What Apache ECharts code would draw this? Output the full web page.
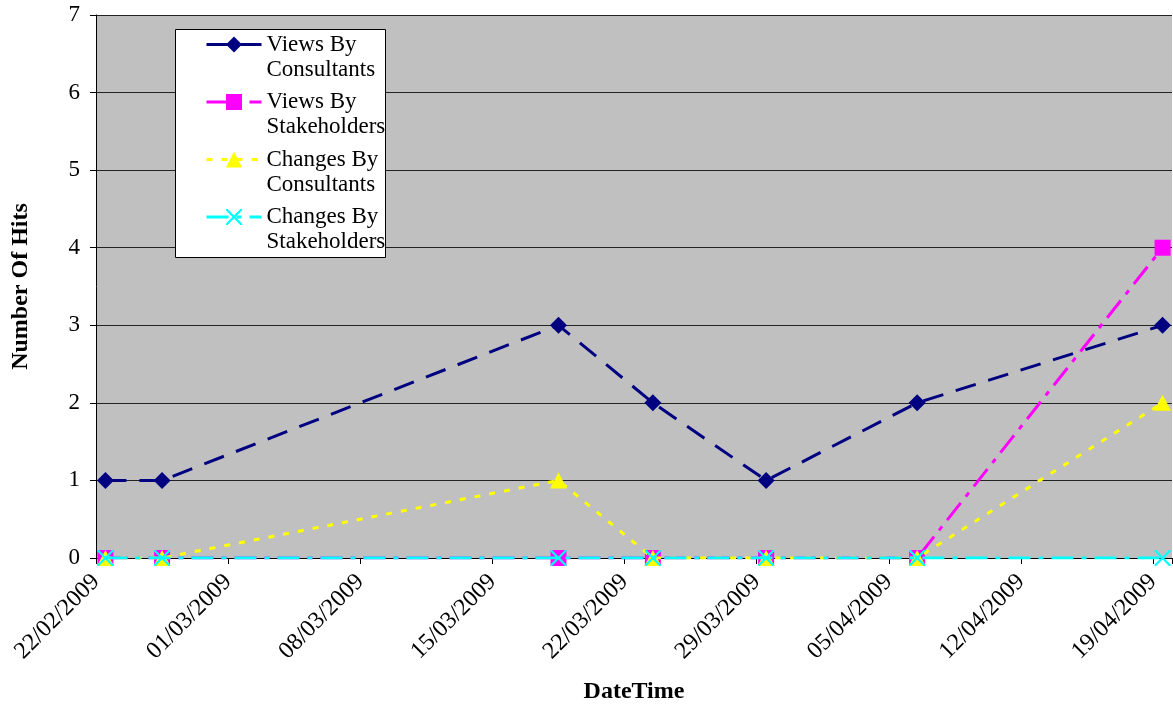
<!DOCTYPE html>
<html>
<head>
<meta charset="utf-8">
<script src="https://cdn.jsdelivr.net/npm/echarts@6/dist/echarts.min.js"></script>
<style>
html,body{margin:0;padding:0;background:#fff;}
#c{width:1173px;height:707px;}
</style>
</head>
<body>
<div id="c"></div>
<script>
// ---- data ----
const dates = ['22/02/2009','25/02/2009','18/03/2009','23/03/2009','29/03/2009','06/04/2009','19/04/2009'];
const viewsByConsultants = [1,1,3,2,1,2,3];
const viewsByStakeholders = [0,0,0,0,0,0,4];
const changesByConsultants = [0,0,1,0,0,0,2];
const changesByStakeholders = [0,0,0,0,0,0,0];
const seriesNames = ['Views By\nConsultants','Views By\nStakeholders','Changes By\nConsultants','Changes By\nStakeholders'];
const axisStart = '22/02/2009';
const axisEnd = '20/04/2009';
const tickStepDays = 7;
const yTicks = [0,1,2,3,4,5,6,7];

// ---- helpers ----
const DAY = 86400000;
function parseD(s){const p=s.split('/');return Date.UTC(+p[2],+p[1]-1,+p[0]);}
const t0 = parseD(axisStart);
function dayOf(s){return (parseD(s)-t0)/DAY;}
function fmt(day){
  const d=new Date(t0+day*DAY);
  const dd=String(d.getUTCDate()).padStart(2,'0');
  const mm=String(d.getUTCMonth()+1).padStart(2,'0');
  return dd+'/'+mm+'/'+d.getUTCFullYear();
}
// points sit in the middle of their day slot
function pts(vals){return dates.map((d,i)=>[dayOf(d)+0.5, vals[i]]);}

const FONT = "'Liberation Serif','Times New Roman',serif";
const xSym = 'path://M0,0 L1,0 L5,4 L9,0 L10,0 L10,1 L6,5 L10,9 L10,10 L9,10 L5,6 L1,10 L0,10 L0,9 L4,5 L0,1 Z';

const chart = echarts.init(document.getElementById('c'), null, {renderer:'canvas'});
chart.setOption({
  animation:false,
  backgroundColor:'#ffffff',
  textStyle:{fontFamily:FONT},
  grid:{left:96,right:1,top:15,bottom:149,show:true,backgroundColor:'#c0c0c0',borderWidth:0,outerBoundsMode:'none',containLabel:false},
  graphic:[{type:'rect',left:175,top:29,z:3,shape:{width:210,height:228},style:{fill:'#ffffff',stroke:'#000000',lineWidth:1}}],
  legend:{
    orient:'vertical',left:205,top:7,padding:0,z:4,
    itemWidth:55,itemHeight:20,itemGap:-17.5,
    lineStyle:{width:3},
    textStyle:{fontFamily:FONT,fontSize:23,lineHeight:25,color:'#000'},
    formatter:function(n){return '\n'+n;},
    data:seriesNames
  },
  xAxis:{
    type:'value',min:0,max:dayOf(axisEnd),interval:tickStepDays,
    name:'DateTime',nameLocation:'middle',nameGap:122,
    nameTextStyle:{fontFamily:FONT,fontSize:24,fontWeight:'bold',color:'#000'},
    axisLine:{show:true,lineStyle:{color:'#000',width:1}},
    axisTick:{show:true,length:6,lineStyle:{color:'#000'}},
    splitLine:{show:false},
    axisLabel:{rotate:45,margin:20,fontFamily:FONT,fontSize:24,color:'#000',
      formatter:function(v){return (v%tickStepDays===0)?fmt(v):'';}}
  },
  yAxis:{
    type:'value',min:yTicks[0],max:yTicks[yTicks.length-1],interval:1,
    name:'Number Of Hits',nameLocation:'middle',nameGap:63,
    nameTextStyle:{fontFamily:FONT,fontSize:24,fontWeight:'bold',color:'#000'},
    axisLine:{show:true,lineStyle:{color:'#000',width:1}},
    axisTick:{show:true,length:6,lineStyle:{color:'#000'}},
    splitLine:{show:true,lineStyle:{color:'#222',width:1}},
    axisLabel:{margin:16,fontFamily:FONT,fontSize:23,color:'#000'}
  },
  series:[
    {name:seriesNames[0],type:'line',data:pts(viewsByConsultants),symbol:'diamond',symbolSize:17,
      itemStyle:{color:'#000080'},lineStyle:{color:'#000080',width:3,type:[21,13]},z:2},
    {name:seriesNames[1],type:'line',data:pts(viewsByStakeholders),symbol:'rect',symbolSize:16,
      itemStyle:{color:'#ff00ff'},lineStyle:{color:'#ff00ff',width:3,type:[22,8,5,8]},z:3},
    {name:seriesNames[2],type:'line',data:pts(changesByConsultants),symbol:'triangle',symbolSize:[17,16],
      itemStyle:{color:'#ffff00'},lineStyle:{color:'#ffff00',width:3,type:[6,9]},z:4},
    {name:seriesNames[3],type:'line',data:pts(changesByStakeholders),symbol:xSym,symbolSize:16,
      itemStyle:{color:'#00ffff'},lineStyle:{color:'#00ffff',width:3,type:[22,8,5,8]},z:5}
  ]
});
</script>
</body>
</html>
